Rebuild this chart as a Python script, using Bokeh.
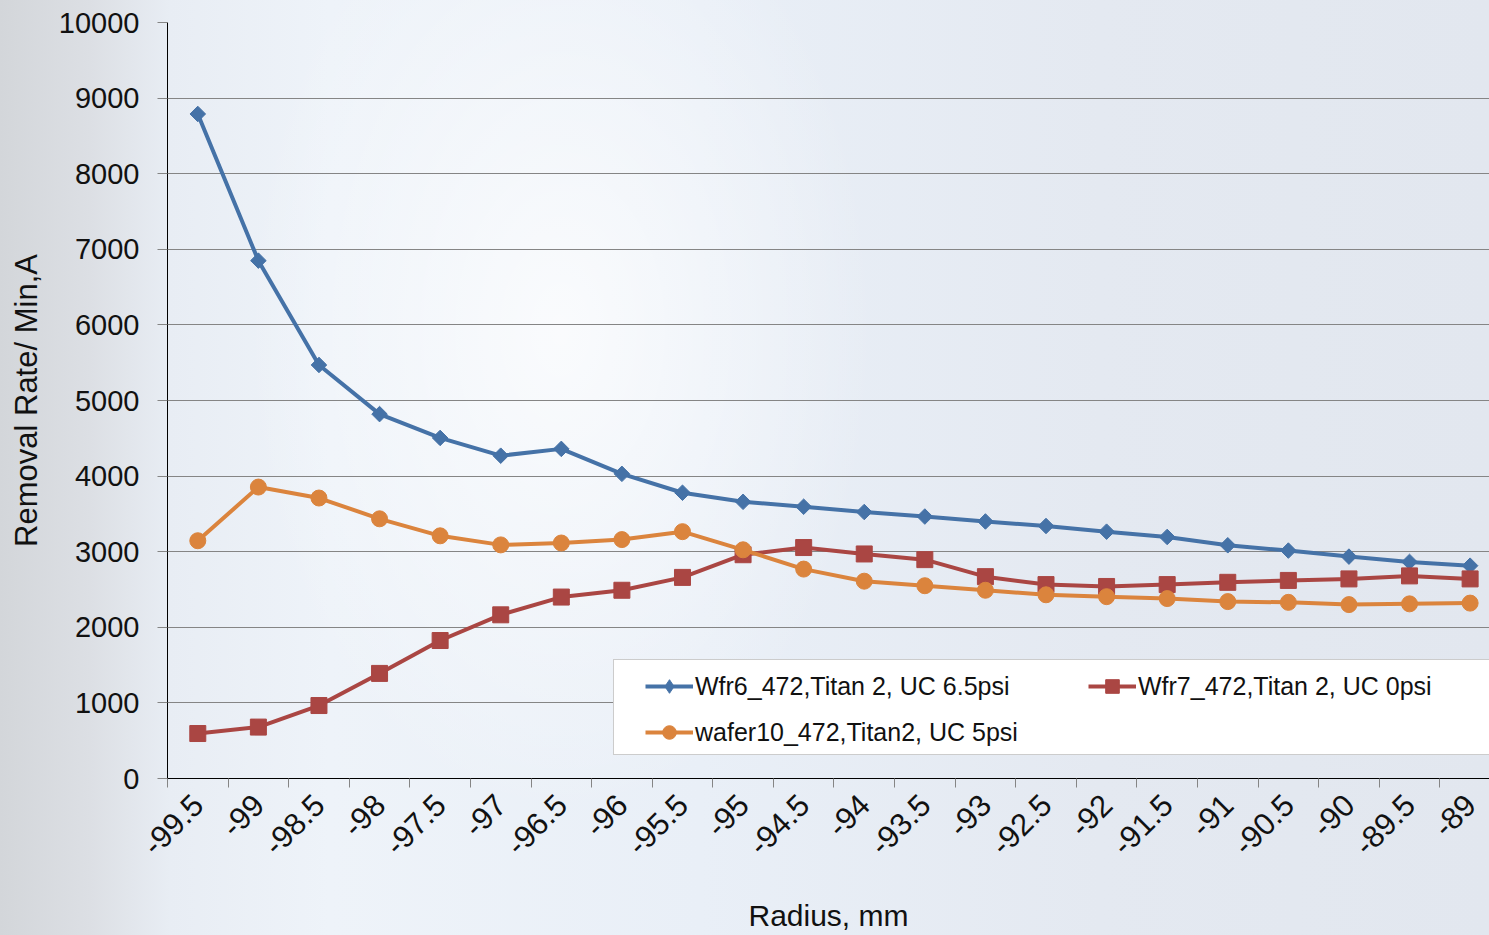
import numpy as np
from bokeh.plotting import figure
from bokeh.models import (Range1d, FixedTicker, LinearAxis, Legend, LegendItem)
from bokeh.embed import file_html
from bokeh.resources import INLINE

# Radial positions (mm) and removal rates (A/min) for the three wafers
radius_labels = ["-99.5", "-99", "-98.5", "-98", "-97.5", "-97", "-96.5", "-96",
                 "-95.5", "-95", "-94.5", "-94", "-93.5", "-93", "-92.5", "-92",
                 "-91.5", "-91", "-90.5", "-90", "-89.5", "-89"]
wfr6 = [8790, 6850, 5470, 4820, 4505, 4270, 4360, 4030, 3780, 3660, 3595,
        3525, 3465, 3400, 3340, 3265, 3195, 3085, 3015, 2935, 2865, 2815]
wfr7 = [595, 680, 965, 1390, 1825, 2165, 2400, 2490, 2660, 2960, 3055,
        2970, 2895, 2670, 2565, 2540, 2565, 2595, 2620, 2640, 2680, 2640]
wafer10 = [3145, 3855, 3710, 3435, 3210, 3090, 3115, 3160, 3265, 3025, 2770,
           2610, 2550, 2490, 2430, 2405, 2380, 2340, 2330, 2300, 2310, 2320]
series_names = ["Wfr6_472,Titan 2, UC 6.5psi",
                "Wfr7_472,Titan 2, UC 0psi",
                "wafer10_472,Titan2, UC 5psi"]
y_ticks = list(range(0, 10001, 1000))

BLUE, RED, ORANGE = "#4572A7", "#AA4643", "#DB843D"
FONT = "Liberation Sans"
GRID = "#858585"
INK = "#111111"

idx = list(range(len(radius_labels)))
bounds = [i - 0.5 for i in range(len(radius_labels) + 1)]

p = figure(width=1489, height=935, output_backend="svg", toolbar_location=None,
           x_range=Range1d(-0.5, 21.32), y_range=Range1d(0, 10000),
           x_axis_location=None, y_axis_location="left",
           min_border_left=167, min_border_right=0, min_border_top=22,
           min_border_bottom=156)
p.outline_line_color = None
p.border_fill_alpha = 0
p.background_fill_alpha = 0
p.styles = {
    "background": (
        "radial-gradient(ellipse 420px 650px at 560px 330px, rgba(255,255,255,0.75), rgba(255,255,255,0) 75%),"
        "linear-gradient(90deg, #d3d6da 0px, #dcdfe4 90px, #e8edf4 170px, #eef3f9 330px,"
        " #e9eff7 700px, #e4e9f1 1100px, #e2e7ef 1489px)"
    )
}

# y axis and horizontal grid
yax = p.yaxis[0]
yax.ticker = FixedTicker(ticks=y_ticks)
yax.axis_line_color = "black"
yax.axis_line_width = 1
yax.major_tick_line_color = GRID
yax.major_tick_out = 10
yax.major_tick_in = 0
yax.minor_tick_line_color = None
yax.major_label_text_font = FONT
yax.major_label_text_font_size = "29px"
yax.major_label_text_color = INK
yax.major_label_standoff = 18
yax.axis_label = "Removal Rate/ Min,A"
yax.axis_label_text_font = FONT
yax.axis_label_text_font_size = "31px"
yax.axis_label_text_font_style = "normal"
yax.axis_label_text_color = INK
yax.axis_label_standoff = 12
p.ygrid.ticker = FixedTicker(ticks=y_ticks)
p.ygrid.grid_line_color = GRID
p.ygrid.grid_line_width = 1
p.xgrid.grid_line_color = None

# x axis: tick marks on category boundaries, labels on category centres
tick_axis = LinearAxis(ticker=FixedTicker(ticks=bounds),
                       axis_line_color="black", axis_line_width=1,
                       major_tick_line_color=GRID, major_tick_out=9, major_tick_in=0,
                       minor_tick_line_color=None,
                       major_label_text_font_size="0px", major_label_standoff=0,
                       major_label_overrides={b: "" for b in bounds})
label_axis = LinearAxis(ticker=FixedTicker(ticks=idx),
                        major_label_overrides={i: lab for i, lab in zip(idx, radius_labels)},
                        axis_line_color=None, major_tick_line_color=None,
                        major_tick_out=0, major_tick_in=0, minor_tick_line_color=None,
                        major_label_orientation=np.pi / 4,
                        major_label_text_font=FONT, major_label_text_font_size="31px",
                        major_label_text_color=INK, major_label_standoff=12,
                        axis_label="Radius, mm", axis_label_text_font=FONT,
                        axis_label_text_font_size="30px",
                        axis_label_text_font_style="normal",
                        axis_label_text_color=INK, axis_label_standoff=31)
p.add_layout(tick_axis, "below")
p.add_layout(label_axis, "below")

# series
l6 = p.line(idx, wfr6, line_color=BLUE, line_width=4)
# diamond key for the legend (tiny in the plot, hidden under the markers)
k6 = p.scatter(idx, wfr6, marker="diamond", size=1,
               fill_color=BLUE, line_color=BLUE, line_width=1)
m6 = p.scatter(idx, wfr6, marker="square", angle=np.pi / 4, size=11,
               fill_color=BLUE, line_color=BLUE, line_width=1)
l7 = p.line(idx, wfr7, line_color=RED, line_width=4)
m7 = p.scatter(idx, wfr7, marker="square", size=16,
               fill_color=RED, line_color=RED, line_width=1)
l10 = p.line(idx, wafer10, line_color=ORANGE, line_width=4)
m10 = p.scatter(idx, wafer10, marker="circle", size=16,
                fill_color=ORANGE, line_color=ORANGE, line_width=1)

# legend frame (white box) drawn behind the legend entries
frame_stub = p.line([], [], line_alpha=0)
legend_box = Legend(items=[LegendItem(label=" ", renderers=[frame_stub])],
                    location=(446, 23), padding=0, margin=0,
                    glyph_width=1, glyph_height=94, label_width=1100, label_height=94,
                    label_standoff=0, label_text_font_size="1px",
                    border_line_color="#9a9a9a", border_line_width=1,
                    background_fill_color="white", background_fill_alpha=1)
p.add_layout(legend_box, "center")

legend = Legend(items=[LegendItem(label=series_names[0], renderers=[l6, k6]),
                       LegendItem(label=series_names[1], renderers=[l7, m7]),
                       LegendItem(label=series_names[2], renderers=[l10, m10])],
                location=(478, 29), orientation="horizontal", nrows=2,
                padding=0, margin=0, spacing=12,
                glyph_width=48, glyph_height=34, label_height=28, label_width=381,
                label_standoff=2, label_text_font=FONT, label_text_font_size="25px",
                label_text_color=INK,
                border_line_alpha=0, background_fill_alpha=0)
p.add_layout(legend, "center")

open("out.html", "w").write(file_html(p, INLINE))
